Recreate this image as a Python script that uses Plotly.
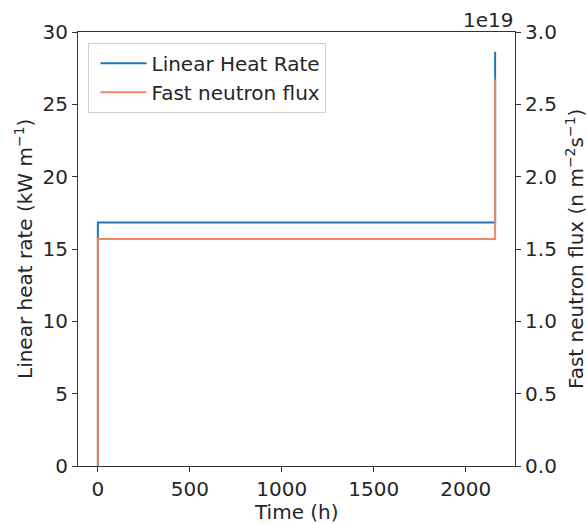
import plotly.graph_objects as go

time_h = [0, 0, 2160, 2160]
linear_heat_rate = [0.0, 16.84, 16.84, 28.63]          # kW m^-1
fast_flux = [0.0, 1.569e19, 1.569e19, 2.672e19]         # n m^-2 s^-1
flux_scale = 1e19
x_ticks = [0, 500, 1000, 1500, 2000]
y_ticks = [0, 5, 10, 15, 20, 25, 30]
y2_ticks = [0.0, 0.5, 1.0, 1.5, 2.0, 2.5, 3.0]

FONT = "DejaVu Sans"
FS = 20
TXT = "#262626"
BLUE = "#1f77b4"
ORANGE = "#f4845f"

fig = go.Figure()
fig.add_trace(go.Scatter(x=time_h, y=linear_heat_rate, mode="lines",
                         line=dict(color=BLUE, width=2),
                         name="Linear Heat Rate"))
fig.add_trace(go.Scatter(x=time_h, y=[v / flux_scale for v in fast_flux], mode="lines",
                         line=dict(color=ORANGE, width=2),
                         name="Fast neutron flux", yaxis="y2"))

tmax = max(time_h)
pad = 0.05 * tmax
axis_common = dict(showline=True, linecolor="#333333", linewidth=1.1,
                   ticks="outside", ticklen=5, tickcolor="#333333", tickwidth=1.1,
                   showgrid=False, zeroline=False, automargin=False,
                   tickfont=dict(family=FONT, size=FS, color=TXT))

fig.update_layout(
    width=587, height=524,
    margin=dict(l=78, r=72, t=32, b=58, autoexpand=False),
    paper_bgcolor="white", plot_bgcolor="white",
    font=dict(family=FONT, size=FS, color=TXT),
    xaxis=dict(range=[-pad, tmax + pad], tickvals=x_ticks, mirror=True, **axis_common),
    yaxis=dict(range=[0, 30], tickvals=y_ticks, **axis_common),
    yaxis2=dict(range=[0, 3], tickvals=y2_ticks,
                ticktext=[f"{v:.1f}" for v in y2_ticks],
                overlaying="y", side="right", **axis_common),
    legend=dict(x=0.024, y=0.975, xanchor="left", yanchor="top",
                bgcolor="rgba(255,255,255,0.8)", bordercolor="#d0d0d0", borderwidth=1,
                font=dict(family=FONT, size=FS, color=TXT),
                itemwidth=46, indentation=6, tracegroupgap=2),
    showlegend=True,
)
fig.add_annotation(text="1e19", xref="paper", yref="paper", x=1.0, y=1.0,
                   xanchor="right", yanchor="bottom", yshift=-2, showarrow=False,
                   font=dict(family=FONT, size=FS, color=TXT))
fig.add_annotation(text="Time (h)", xref="paper", yref="paper", x=0.5, y=0,
                   xanchor="center", yanchor="middle", yshift=-46, showarrow=False,
                   font=dict(family=FONT, size=FS, color=TXT))
fig.add_annotation(text="Linear heat rate (kW m<sup>−1</sup>)", xref="paper", yref="paper",
                   x=0, y=0.5, xanchor="center", yanchor="middle", xshift=-54,
                   textangle=-90, showarrow=False,
                   font=dict(family=FONT, size=FS, color=TXT))
fig.add_annotation(text="Fast neutron flux (n m<sup>−2</sup>s<sup>−1</sup>)", xref="paper",
                   yref="paper", x=1, y=0.5, xanchor="center", yanchor="middle", xshift=60,
                   textangle=-90, showarrow=False,
                   font=dict(family=FONT, size=FS, color=TXT))

fig.write_html("out.html", config={"displayModeBar": False},
               post_script="document.body.style.margin='0';document.body.style.overflow='hidden';")
